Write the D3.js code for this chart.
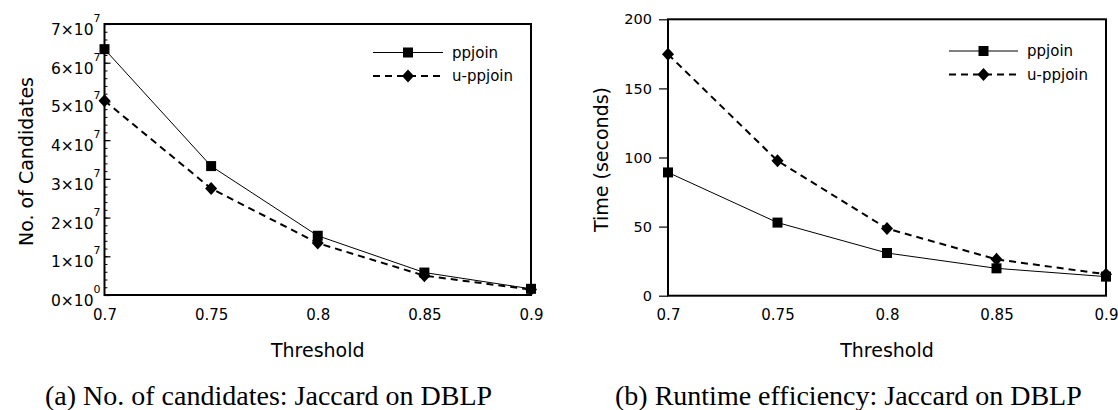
<!DOCTYPE html>
<html>
<head>
<meta charset="utf-8">
<script src="https://cdn.jsdelivr.net/npm/d3@7"></script>
<style>
  html, body { margin: 0; padding: 0; background: #fff; }
  svg { display: block; }
  .tick text { font-family: "DejaVu Sans", sans-serif; }
</style>
</head>
<body>
<svg id="fig" width="1118" height="410"></svg>
<script>
// Similarity thresholds on the x axis
const thresholds = [0.7, 0.75, 0.8, 0.85, 0.9];
const thresholdTicks = ["0.7", "0.75", "0.8", "0.85", "0.9"];

// (a) number of candidate pairs
const candPpjoin  = [6.35e7, 3.33e7, 1.53e7, 0.58e7, 0.16e7];
const candUppjoin = [5.02e7, 2.75e7, 1.34e7, 0.50e7, 0.14e7];
const candTicks = [0, 1e7, 2e7, 3e7, 4e7, 5e7, 6e7, 7e7];

// (b) running time in seconds
const timePpjoin  = [89.2, 52.9, 30.9, 19.8, 13.8];
const timeUppjoin = [174.7, 97.6, 48.6, 26.3, 15.5];
const timeTicks = [0, 50, 100, 150, 200];

const seriesNames = ["ppjoin", "u-ppjoin"];

const svg = d3.select("#fig");
const SANS = "'DejaVu Sans', sans-serif";
const SERIF = "'Liberation Serif', 'DejaVu Serif', serif";

function markSquare(g, x, y) {
  g.append("rect").attr("x", x - 5).attr("y", y - 5).attr("width", 10).attr("height", 10).attr("fill", "#000");
}
function markDiamond(g, x, y) {
  g.append("path").attr("d", `M${x},${y - 6.5}L${x + 6},${y}L${x},${y + 6.5}L${x - 6},${y}Z`).attr("fill", "#000");
}

function panel(opt) {
  const g = svg.append("g");
  const x = d3.scaleLinear().domain([0.7, 0.9]).range([opt.left, opt.right]);
  const y = d3.scaleLinear().domain(opt.yDomain).range([opt.bottom, opt.top]);

  // x axis labels (no tick marks)
  const xa = g.append("g").attr("transform", `translate(0,${opt.bottom})`)
    .call(d3.axisBottom(x).tickValues(thresholds).tickSize(0).tickPadding(14)
      .tickFormat((d, i) => thresholdTicks[i]));
  xa.select(".domain").remove();
  xa.selectAll("text").attr("font-size", 15).attr("fill", "#000");

  // y axis
  if (opt.inner) {
    // ticks pointing into the plot, with four minor ticks between majors
    const minor = d3.range(0, 7e7 + 1, 2e6);
    g.append("g").attr("transform", `translate(${opt.left},0)`)
      .call(d3.axisRight(y).tickValues(minor).tickSize(3).tickFormat(""))
      .call(s => s.select(".domain").remove())
      .selectAll("line").attr("stroke", "#000").attr("stroke-width", 1);
    const ya = g.append("g").attr("transform", `translate(${opt.left},0)`)
      .call(d3.axisRight(y).tickValues(opt.ticks).tickSize(6).tickFormat(""));
    ya.select(".domain").remove();
    ya.selectAll("line").attr("stroke", "#000").attr("stroke-width", 1.2);
    // scientific labels m×10^e
    opt.ticks.forEach(v => {
      const e = v === 0 ? 0 : Math.floor(Math.log10(v));
      const m = v === 0 ? 0 : Math.round(v / Math.pow(10, e));
      const t = g.append("text").attr("x", opt.left - 4).attr("y", y(v) + 11)
        .attr("text-anchor", "end").attr("font-family", SANS).attr("font-size", 15.5).attr("fill", "#000");
      t.append("tspan").text(`${m}×10`);
      t.append("tspan").attr("dy", -13).attr("font-size", 11).text(e);
    });
  } else {
    const ya = g.append("g").attr("transform", `translate(${opt.left},0)`)
      .call(d3.axisLeft(y).tickValues(opt.ticks).tickSize(9).tickPadding(7));
    ya.select(".domain").remove();
    ya.selectAll("line").attr("stroke", "#000").attr("stroke-width", 1.2);
    ya.selectAll("text").attr("font-size", 14.5).attr("fill", "#000");
  }

  // frame
  g.append("rect").attr("x", opt.left).attr("y", opt.top)
    .attr("width", opt.right - opt.left).attr("height", opt.bottom - opt.top)
    .attr("fill", "none").attr("stroke", "#000").attr("stroke-width", 2);

  const line = d3.line().x((d, i) => x(thresholds[i])).y(d => y(d));
  g.append("path").datum(opt.a).attr("d", line).attr("fill", "none")
    .attr("stroke", "#000").attr("stroke-width", 1);
  g.append("path").datum(opt.b).attr("d", line).attr("fill", "none")
    .attr("stroke", "#000").attr("stroke-width", 2).attr("stroke-dasharray", "7,5");
  opt.a.forEach((d, i) => markSquare(g, x(thresholds[i]), y(d)));
  opt.b.forEach((d, i) => markDiamond(g, x(thresholds[i]), y(d)));

  // legend
  const L = opt.legend;
  [0, 1].forEach(k => {
    const ly = L.y + k * 23.5;
    g.append("line").attr("x1", L.x0).attr("x2", L.x1).attr("y1", ly).attr("y2", ly)
      .attr("stroke", "#000").attr("stroke-width", k ? 2 : 1)
      .attr("stroke-dasharray", k ? "7,5" : null);
    const mx = (L.x0 + L.x1) / 2;
    if (k) markDiamond(g, mx, ly); else markSquare(g, mx, ly);
    g.append("text").attr("x", L.x1 + 9).attr("y", ly).attr("dy", "0.35em")
      .attr("font-family", SANS).attr("font-size", 15).attr("fill", "#000").text(seriesNames[k]);
  });

  // axis titles
  g.append("text").attr("transform", `translate(${opt.ylabX},${(opt.top + opt.bottom) / 2 + 2}) rotate(-90)`)
    .attr("text-anchor", "middle").attr("font-family", SANS).attr("font-size", 19).attr("fill", "#000")
    .text(opt.ylabel);
  g.append("text").attr("x", (opt.left + opt.right) / 2).attr("y", 357)
    .attr("text-anchor", "middle").attr("font-family", SANS).attr("font-size", 19).attr("fill", "#000")
    .text("Threshold");
  g.append("text").attr("x", opt.capX).attr("y", 405)
    .attr("text-anchor", "start").attr("font-family", SERIF).attr("font-size", 28).attr("fill", "#000")
    .text(opt.caption);
}

panel({
  left: 104.5, right: 531, top: 24, bottom: 295,
  yDomain: [0, 7e7], ticks: candTicks, inner: true,
  a: candPpjoin, b: candUppjoin,
  legend: { x0: 373, x1: 443, y: 52.5 },
  ylabX: 33, ylabel: "No. of Candidates",
  capX: 45, caption: "(a) No. of candidates: Jaccard on DBLP"
});
panel({
  left: 668, right: 1106, top: 19.3, bottom: 295.7,
  yDomain: [0, 200], ticks: timeTicks, inner: false,
  a: timePpjoin, b: timeUppjoin,
  legend: { x0: 949, x1: 1018, y: 51 },
  ylabX: 608, ylabel: "Time (seconds)",
  capX: 615, caption: "(b) Runtime efficiency: Jaccard on DBLP"
});
</script>
</body>
</html>
